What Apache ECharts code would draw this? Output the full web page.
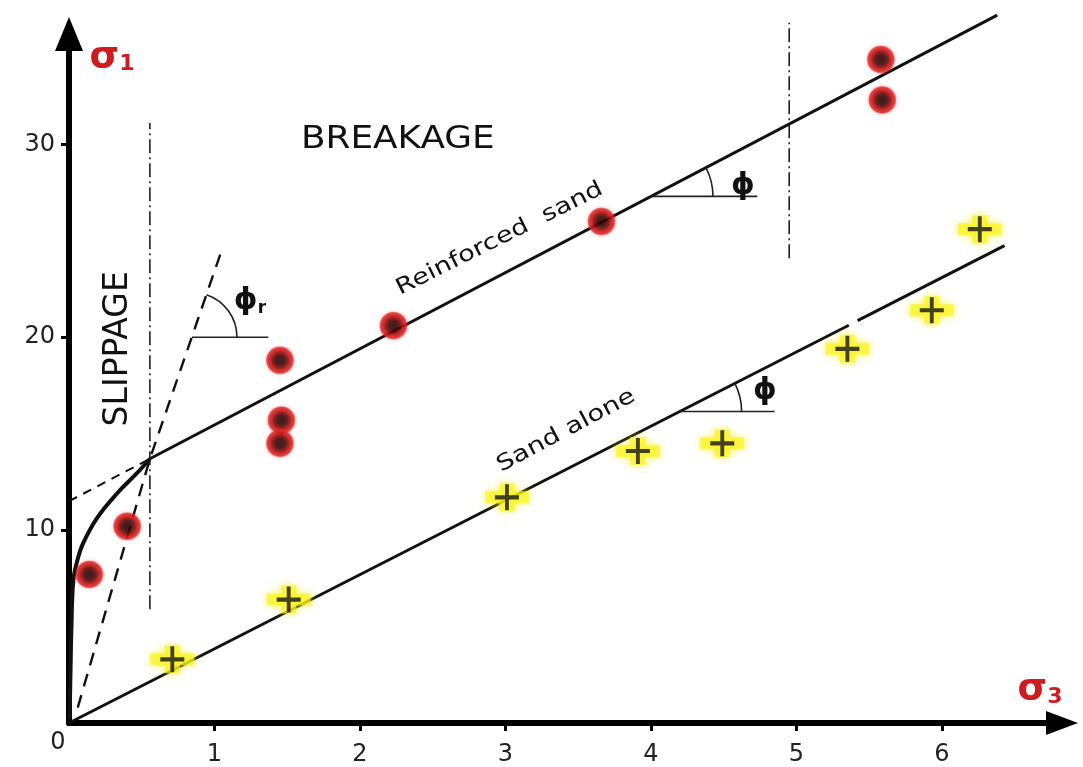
<!DOCTYPE html>
<html><head><meta charset="utf-8">
<script src="https://cdn.jsdelivr.net/npm/echarts/dist/echarts.min.js"></script>
<style>html,body{margin:0;padding:0;background:#fff}#c{width:1083px;height:767px}</style>
</head><body><div id="c"></div>
<script>
// ---- data ----
const xTickLabels = [1, 2, 3, 4, 5, 6];
const yTickLabels = [10, 20, 30];
const xMax = 6.825, yMax = 35.72;
const reinforcedPts = [[0.14,7.7],[0.40,10.2],[1.45,18.8],[1.46,15.7],[1.45,14.5],[2.23,20.6],[3.66,26.0],[5.58,34.4],[5.59,32.3]];
const sandPts = [[0.71,3.3],[1.51,6.4],[3.01,11.7],[3.91,14.1],[4.49,14.5],[5.35,19.4],[5.93,21.4],[6.26,25.6]];
const reinforcedLine = [[0.556,13.7],[6.38,36.7]];
const reinforcedExt = [[0,11.5],[0.556,13.7]];
const sandLineA = [[0,0],[5.36,20.62]];
const sandLineB = [[5.42,20.86],[6.43,24.75]];
const slippageCurve = [[0.004,0.2],[0.01,2.5],[0.017,5.0],[0.03,7.4],[0.06,8.5],[0.096,9.3],[0.19,10.6],[0.33,11.9],[0.467,12.95],[0.556,13.7]];
const phiRLine = [[0.06,0.8],[0.556,13.7],[1.04,24.3]];
const dividerA = [[0.556,5.9],[0.556,31.1]];
const dividerB = [[4.95,24.1],[4.95,36.3]];
// angle marks: vertex, end of horizontal leg, a point along the inclined line
const angleR = {vertex:[0.845,20.0], hEnd:1.37, along:[1.04,24.3]};
const angleUp = {vertex:[4.0,27.3], hEnd:4.73, along:[6.38,36.7]};
const angleLow = {vertex:[4.197,16.15], hEnd:4.85, along:[6.43,24.75]};
// text anchors
const breakagePos = [2.26,30.26];
const slippagePos = [0.337,19.4];
const reinforcedTextPos = [2.96,25.1];
const sandTextPos = [3.416,15.15];
const sigma1Pos = [0.296,34.54];
const sigma3Pos = [6.674,1.75];
const zeroPos = [-0.076,-1.05];
const phiRPos = [1.244,21.86];
const phiUpPos = [4.632,27.84];
const phiLowPos = [4.784,17.22];

const chart = echarts.init(document.getElementById('c'), null, {renderer:'canvas'});
const FONT = '"DejaVu Sans", "Liberation Sans", sans-serif';

function lineSeries(data, width, type, smooth) {
  return {type:'line', data, symbol:'none', silent:true, clip:false, smooth: smooth||false,
    lineStyle:{color:'#111', width, type: type||'solid'}, z:3};
}
function textSeries(pos, text, o) {
  return {type:'custom', clip:false, silent:true, data:[pos], z:10,
    renderItem:(params, api) => {
      const p = api.coord([api.value(0), api.value(1)]);
      return {type:'text', x:p[0], y:p[1], rotation:(o.rot||0)*Math.PI/180, scaleX:o.sx||1, scaleY:o.sy||1,
        style:{text, font:o.font, fill:o.color||'#111', align:'center', verticalAlign:'middle', rich:o.rich}};
    }};
}
function angleSeries(m, r) {
  return {type:'custom', clip:false, silent:true, data:[[m.vertex[0], m.vertex[1]]], z:4,
    renderItem:(params, api) => {
      const v = api.coord(m.vertex), e = api.coord([m.hEnd, m.vertex[1]]), a = api.coord(m.along);
      const th = Math.atan2(a[1]-v[1], a[0]-v[0]);
      return {type:'group', children:[
        {type:'line', shape:{x1:v[0], y1:v[1], x2:e[0], y2:e[1]}, style:{stroke:'#222', lineWidth:1.6}},
        {type:'arc', shape:{cx:v[0], cy:v[1], r, startAngle:th, endAngle:0, clockwise:true}, style:{stroke:'#222', fill:null, lineWidth:1.6}}
      ]};
    }};
}

const plusPath = 'path://M8.4,0H11.6V8.4H20V11.6H11.6V20H8.4V11.6H0V8.4H8.4Z';
const blobPath = 'path://M13,0H27V8H40V20H27V28H13V20H0V8H13Z';
const sigmaRich = {a:{fontSize:38, fontWeight:'bold', fontFamily:'DejaVu Sans', fill:'#cf1a1f'}, b:{fontSize:22, fontWeight:'bold', fontFamily:'DejaVu Sans', fill:'#cf1a1f', padding:[16,0,0,0]}};

const option = {
  animation:false,
  backgroundColor:'#fff',
  grid:{left:69, top:34, right:1083-1062, bottom:767-727, containLabel:false},
  xAxis:{type:'value', min:0, max:xMax,
    axisLine:{show:true, onZero:false, symbol:['none','triangle'], symbolSize:[24,32], lineStyle:{color:'#000', width:6}},
    axisTick:{show:true, length:8, customValues:xTickLabels, lineStyle:{color:'#000', width:3}},
    axisLabel:{customValues:xTickLabels, fontSize:24, color:'#222', fontFamily:FONT, margin:20},
    splitLine:{show:false}},
  yAxis:{type:'value', min:0, max:yMax,
    axisLine:{show:true, onZero:false, symbol:['none','triangle'], symbolSize:[28,34], lineStyle:{color:'#000', width:6}},
    axisTick:{show:true, length:8, customValues:yTickLabels, lineStyle:{color:'#000', width:3}},
    axisLabel:{customValues:yTickLabels, fontSize:24, color:'#222', fontFamily:FONT, margin:14},
    splitLine:{show:false}},
  series:[
    lineSeries(dividerA, 1.5, [14,4,2,4]),
    lineSeries(dividerB, 1.5, [14,4,2,4]),
    lineSeries(reinforcedLine, 3),
    lineSeries(reinforcedExt, 2, [9,7]),
    lineSeries(sandLineA, 3),
    lineSeries(sandLineB, 3),
    lineSeries(slippageCurve, 4, 'solid', 0.4),
    lineSeries(phiRLine, 2.4, [13,9]),
    angleSeries(angleR, 45),
    angleSeries(angleUp, 62),
    angleSeries(angleLow, 62),
    {type:'scatter', data:sandPts, symbol:blobPath, symbolSize:[44,28], silent:true, clip:false, z:5,
      itemStyle:{color:'rgba(250,244,30,0.85)', shadowBlur:9, shadowColor:'rgba(248,240,0,0.95)'}},
    {type:'scatter', data:sandPts, symbol:plusPath, symbolSize:[24,26], silent:true, clip:false, z:6,
      itemStyle:{color:'#141414'}},
    {type:'scatter', data:reinforcedPts, symbol:'circle', symbolSize:28, silent:true, clip:false, z:6,
      itemStyle:{shadowBlur:4, shadowColor:'rgba(220,30,30,0.6)', color:{type:'radial', x:0.5, y:0.5, r:0.5, colorStops:[
        {offset:0, color:'#120000'},{offset:0.3, color:'#250000'},{offset:0.52, color:'#6e0404'},
        {offset:0.72, color:'#c81212'},{offset:0.9, color:'#e02424'},{offset:1, color:'rgba(230,50,50,0.55)'}]}}},
    textSeries(breakagePos, 'BREAKAGE', {font:'32px '+FONT, sx:1.12}),
    textSeries(slippagePos, 'SLIPPAGE', {font:'33px '+FONT, rot:90}),
    textSeries(reinforcedTextPos, 'Reinforced  sand', {font:'500 22px '+FONT, rot:26.5, sx:1.24}),
    textSeries(sandTextPos, 'Sand alone', {font:'22px '+FONT, rot:28, sx:1.25}),
    textSeries(zeroPos, '0', {font:'24px '+FONT, color:'#222'}),
    textSeries(phiRPos, '{p|ϕ}{s|r}', {font:'26px '+FONT, rich:{p:{fontSize:30, fontWeight:'bold', fontFamily:'DejaVu Sans', fill:'#111'}, s:{fontSize:17, fontFamily:'DejaVu Sans', fontWeight:'bold', fill:'#111', padding:[14,0,0,0]}}}),
    textSeries(phiUpPos, 'ϕ', {font:'bold 30px '+FONT}),
    textSeries(phiLowPos, 'ϕ', {font:'bold 30px '+FONT}),
    textSeries(sigma1Pos, '{a|σ}{b|1}', {font:'34px '+FONT, rich:sigmaRich}),
    textSeries(sigma3Pos, '{a|σ}{b|3}', {font:'34px '+FONT, rich:sigmaRich})
  ]
};
chart.setOption(option);
</script></body></html>
